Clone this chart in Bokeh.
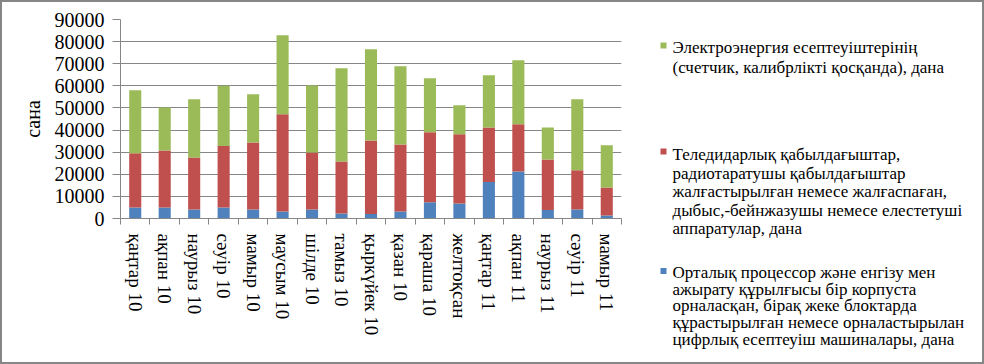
from bokeh.plotting import figure
from bokeh.models import ColumnDataSource, Range1d, FixedTicker, SingleIntervalTicker
from bokeh.layouts import row
from bokeh.embed import file_html
from bokeh.resources import INLINE
from bokeh.core.properties import value

months = ["қаңтар 10", "ақпан 10", "наурыз 10", "сәуір 10", "мамыр 10", "маусым 10",
          "шілде 10", "тамыз 10", "қыркүйек 10", "қазан 10", "қараша 10", "желтоқсан",
          "қаңтар 11", "ақпан 11", "наурыз 11", "сәуір 11", "мамыр 11"]
computers = [5000, 5000, 4100, 5000, 4100, 3200, 4100, 2300, 2000, 3200, 7400, 6800,
             16500, 21300, 3800, 4100, 1400]
tv_radio = [24500, 25800, 23500, 27800, 30300, 43900, 25800, 23500, 33300, 30300, 31600,
            31300, 24700, 21300, 22900, 17700, 12600]
meters = [28500, 19400, 26300, 27200, 21800, 35800, 30200, 42200, 41300, 35400, 24400,
          13100, 23600, 29000, 14500, 32100, 19100]

legend_meters = ["Электроэнергия есептеуіштерінің",
                 "(счетчик, калибрлікті қосқанда), дана"]
legend_tv = ["Теледидарлық  қабылдағыштар,",
             "радиотаратушы  қабылдағыштар",
             "жалғастырылған  немесе жалғаспаған,",
             "дыбыс,-бейнжазушы немесе елестетуші",
             "аппаратулар,   дана"]
legend_comp = ["Орталық  процессор және  енгізу мен",
               "ажырату  құрылғысы бір корпуста",
               "орналасқан,  бірақ жеке блоктарда",
               "құрастырылған  немесе орналастырылан",
               "цифрлық  есептеуіш машиналары,  дана"]

BLUE, RED, GREEN = "#4F81BD", "#C0504D", "#9BBB59"
GRAY = "#868686"
FONT = "Liberation Serif"

xs = list(range(len(months)))
src = ColumnDataSource(dict(x=xs, computers=computers, tv_radio=tv_radio, meters=meters))

p = figure(width=646, height=360, frame_width=501, frame_height=199,
           min_border_left=118, min_border_top=17, min_border_bottom=144, min_border_right=27,
           x_range=Range1d(-0.5, len(months) - 0.5), y_range=Range1d(0, 90000),
           output_backend="svg", toolbar_location=None)
p.frame_align = False
p.vbar_stack(["computers", "tv_radio", "meters"], x="x", width=0.41, source=src,
             color=[BLUE, RED, GREEN], line_color=None)

p.outline_line_color = None
p.xgrid.visible = False
p.ygrid.grid_line_color = GRAY
p.ygrid.grid_line_width = 1

p.yaxis.ticker = SingleIntervalTicker(interval=10000, num_minor_ticks=0)
p.yaxis.axis_label = "сана"
p.yaxis.axis_label_text_font = FONT
p.yaxis.axis_label_text_font_size = "20px"
p.yaxis.axis_label_text_font_style = "normal"
p.yaxis.axis_label_text_color = "black"
p.yaxis.axis_label_standoff = 8
p.yaxis.major_label_text_font = FONT
p.yaxis.major_label_text_font_size = "20px"
p.yaxis.major_label_text_color = "black"
p.yaxis.major_label_standoff = 8
p.yaxis.major_tick_out = 8
p.yaxis.major_tick_in = 0
p.yaxis.major_tick_line_color = GRAY
p.yaxis.minor_tick_line_color = None
p.yaxis.axis_line_color = GRAY

centers = xs
bounds = [i - 0.5 for i in range(len(months) + 1)]
p.xaxis.ticker = FixedTicker(ticks=centers, minor_ticks=bounds)
p.xaxis.major_label_overrides = {i: m for i, m in zip(xs, months)}
p.xaxis.major_label_orientation = "vertical"
p.xaxis.major_label_text_font = FONT
p.xaxis.major_label_text_font_size = "19px"
p.xaxis.major_label_text_color = "black"
p.xaxis.major_label_standoff = 9
p.xaxis.major_tick_line_color = None
p.xaxis.major_tick_out = 6
p.xaxis.major_tick_in = 0
p.xaxis.minor_tick_line_color = GRAY
p.xaxis.minor_tick_out = 6
p.xaxis.minor_tick_in = 0
p.xaxis.axis_line_color = GRAY

# legend panel (pixel coordinates, y downward)
LW, LH = 334, 360
leg = figure(width=LW, height=LH, frame_width=LW, frame_height=LH,
             x_range=Range1d(0, LW), y_range=Range1d(LH, 0),
             min_border=0, x_axis_location=None, y_axis_location=None,
             output_backend="svg", toolbar_location=None)
leg.frame_align = False
leg.outline_line_color = None
leg.xgrid.visible = False
leg.ygrid.visible = False

entries = [(legend_meters, GREEN, 45, 20.0, 43),
           (legend_tv, RED, 152, 18.5, 149),
           (legend_comp, BLUE, 270, 16.7, 268.5)]
for lines, col, y0, dy, sq in entries:
    leg.rect(x=[15], y=[sq], width=6, height=6, color=col, line_color=None)
    leg.text(x=[24] * len(lines), y=[y0 + i * dy for i in range(len(lines))], text=lines,
             text_font=value(FONT), text_font_size="17px", text_color="black",
             text_baseline="alphabetic", text_align="left")

layout = row(p, leg, styles={"border": "2px solid #868686"})
open("out.html", "w").write(file_html(layout, INLINE))
